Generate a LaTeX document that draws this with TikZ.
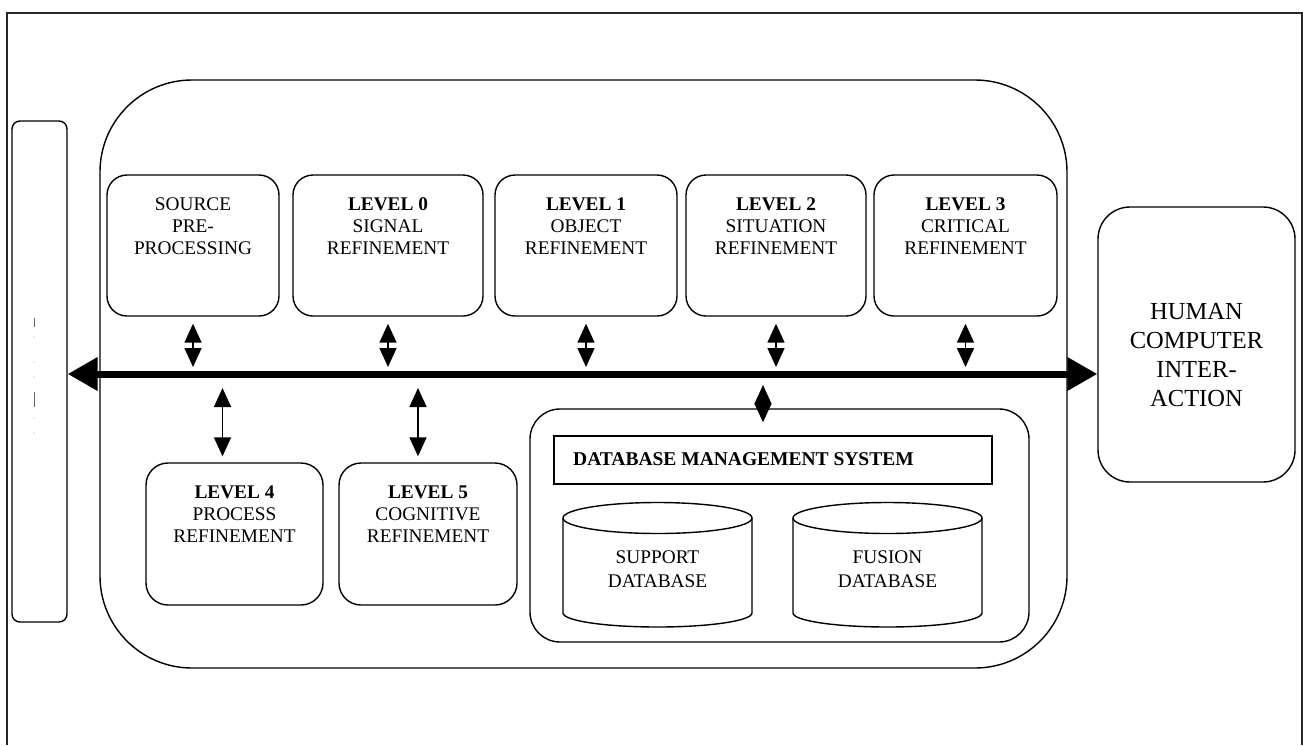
\documentclass[tikz,border=0pt]{standalone}
\usepackage{fontspec}
\setmainfont{Liberation Serif}
\usetikzlibrary{arrows.meta,calc}
\begin{document}
\begin{tikzpicture}[x=1pt,y=-1pt,
  box/.style={draw, line width=1.4pt, rounded corners=#1, inner sep=0pt},
  box/.default=20pt,
  lbl/.style={align=center, inner sep=0pt, anchor=north, font=\fontsize{19.3}{22}\selectfont},
  dbl/.style={line width=1.6pt, {Triangle[length=19pt,width=17pt]}-{Triangle[length=19pt,width=17pt]}},
  bus/.style={line width=7pt, {Triangle[length=30pt,width=32pt]}-{Triangle[length=30pt,width=32pt]}},
  cyl/.style={line width=1.4pt}
]
\useasboundingbox (0,0) rectangle (1303,745);
% outer frame
\draw[line width=1.8pt, black!85] (7,745) -- (7,13) -- (1302,13) -- (1302,745);

% main containers
\node[box=92pt, minimum width=967pt, minimum height=588pt] (main) at (583.5,374) {};
\node[box=8pt, minimum width=55pt, minimum height=501pt] (sources) at (39.5,371.5) {};
\node[box=32pt, minimum width=197pt, minimum height=275pt] (hci) at (1196.5,344.5) {};
\node[lbl, font=\fontsize{24.5}{29}\selectfont] (hcit) at ($(hci.north)+(0,96.5)$) {HUMAN\\COMPUTER\\INTER-\\ACTION};

% faint marks in the left box
\draw[line width=0.6pt, black!60] (34,318) -- (34,327);
\draw[line width=0.6pt, black!60] (34,392) -- (34,407);
\foreach \yy in {337,362,377,418,433}{\fill[black!50] (34,\yy) circle[radius=0.5pt];}

% top row
\node[box, minimum width=172pt, minimum height=141pt] (src) at (193,245.5) {};
\node[box, minimum width=190pt, minimum height=141pt] (l0) at (388,245.5) {};
\node[box, minimum width=182pt, minimum height=141pt] (l1) at (586,245.5) {};
\node[box, minimum width=180pt, minimum height=141pt] (l2) at (776,245.5) {};
\node[box, minimum width=183pt, minimum height=141pt] (l3) at (965.5,245.5) {};
\node[lbl] (srct) at ($(src.north)+(0,23)$) {SOURCE\\PRE-\\PROCESSING};
\node[lbl] (l0t) at ($(l0.north)+(0,23)$) {\textbf{LEVEL 0}\\SIGNAL\\REFINEMENT};
\node[lbl] (l1t) at ($(l1.north)+(0,23)$) {\textbf{LEVEL 1}\\OBJECT\\REFINEMENT};
\node[lbl] (l2t) at ($(l2.north)+(0,23)$) {\textbf{LEVEL 2}\\SITUATION\\REFINEMENT};
\node[lbl] (l3t) at ($(l3.north)+(0,23)$) {\textbf{LEVEL 3}\\CRITICAL\\REFINEMENT};

% bottom row
\node[box=22pt, minimum width=177pt, minimum height=142pt] (l4) at (234.5,534) {};
\node[box=22pt, minimum width=178pt, minimum height=142pt] (l5) at (428,534) {};
\node[lbl] (l4t) at ($(l4.north)+(0,23)$) {\textbf{LEVEL 4}\\PROCESS\\REFINEMENT};
\node[lbl] (l5t) at ($(l5.north)+(0,23)$) {\textbf{LEVEL 5}\\COGNITIVE\\REFINEMENT};

% database block
\node[box=30pt, minimum width=499pt, minimum height=233pt] (db) at (779.5,525.5) {};
\node[draw, line width=1.4pt, minimum width=438pt, minimum height=48pt, inner sep=0pt] (dbms) at (773,460) {};
\node[anchor=base west, inner sep=0pt, font=\bfseries\fontsize{19.5}{22}\selectfont] (dbmst) at (573,465) {DATABASE MANAGEMENT SYSTEM};

\draw[cyl] (563,518) -- (563,613) arc[start angle=180,end angle=360,x radius=94.5pt,y radius=14pt] -- (752,518);
\draw[cyl] (657.5,518) ellipse [x radius=94.5pt, y radius=15.5pt];
\node[lbl, font=\fontsize{19.3}{24}\selectfont] (supt) at (657.5,551) {SUPPORT\\DATABASE};
\draw[cyl] (793,518) -- (793,613) arc[start angle=180,end angle=360,x radius=94.5pt,y radius=14pt] -- (982,518);
\draw[cyl] (887.5,518) ellipse [x radius=94.5pt, y radius=15.5pt];
\node[lbl, font=\fontsize{19.3}{24}\selectfont] (fust) at (887.5,551) {FUSION\\DATABASE};

% bus
\coordinate (busy) at (0,374);
\draw[bus] (sources.east |- busy) -- (hci.west |- busy);

% connectors to bus
\foreach \n in {src,l0,l1,l2,l3}{
  \draw[dbl, shorten <=7pt, shorten >=7pt] (\n.south) -- (\n.south |- busy);
}
\draw[dbl, shorten <=14pt, shorten >=6pt] ([xshift=-12pt]l4.north |- busy) -- ([xshift=-12pt]l4.north);
\draw[dbl, shorten <=14pt, shorten >=6pt] ([xshift=-10pt]l5.north |- busy) -- ([xshift=-10pt]l5.north);
\draw[dbl, shorten <=11pt, shorten >=-14pt] ([xshift=-16.5pt]db.north |- busy) -- ([xshift=-16.5pt]db.north);
\end{tikzpicture}
\end{document}
